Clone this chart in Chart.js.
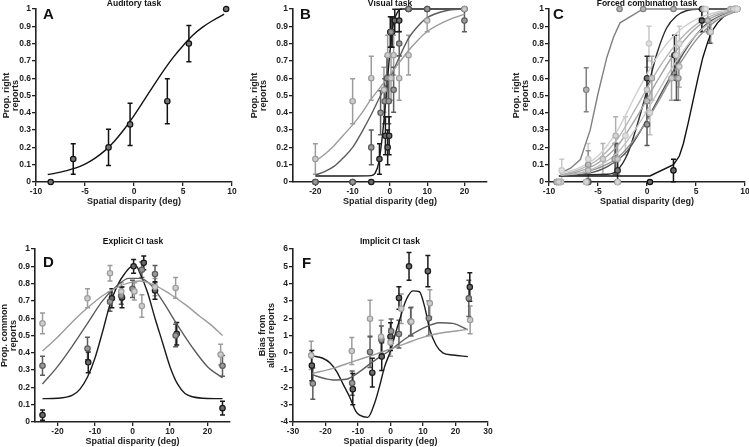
<!DOCTYPE html>
<html>
<head>
<meta charset="utf-8">
<script src="https://cdn.jsdelivr.net/npm/chart.js@4.4.1/dist/chart.umd.min.js"></script>
<style>
html, body { margin: 0; padding: 0; background: #fff; overflow: hidden; width: 749px; height: 447px; position: relative; }
canvas { position: absolute; }
</style>
</head>
<body>
<canvas id="cA" width="240" height="215" style="left:0;top:0"></canvas>
<canvas id="cB" width="252" height="215" style="left:240px;top:0"></canvas>
<canvas id="cC" width="265" height="215" style="left:490px;top:0"></canvas>
<canvas id="cD" width="240" height="235" style="left:0;top:220px"></canvas>
<canvas id="cF" width="258" height="235" style="left:240px;top:220px"></canvas>
<script>
// tick labels
const ticks01 = [0, 0.1, 0.2, 0.3, 0.4, 0.5, 0.6, 0.7, 0.8, 0.9, 1];
const ticksBias = [-4, -3, -2, -1, 0, 1, 2, 3, 4, 5, 6];
const xTicks10 = [-10, -5, 0, 5, 10];
const xTicks20 = [-20, -10, 0, 10, 20];
const xTicks30 = [-30, -20, -10, 0, 10, 20, 30];

// A: auditory task  [x, y, err]
const aPts = [[-8.5,0,0],[-6.2,0.133,0.088],[-2.6,0.2,0.105],[-0.4,0.333,0.122],[3.4,0.467,0.13],[5.6,0.8,0.105],[9.4,1,0]];
const aFit = [[-8.8,0.043],[-8,0.051],[-7,0.064],[-6,0.08],[-5,0.104],[-4,0.137],[-3,0.18],[-2,0.236],[-1,0.305],[0,0.384],[1,0.47],[2,0.557],[3,0.642],[4,0.72],[5,0.788],[6,0.848],[7,0.895],[8,0.932],[9.2,0.97]];

// B: visual task
const bBlackPts = [[-20,0,0],[-10,0,0],[-5,0,0],[-2.8,0.133,0.088],[-1.2,0.267,0.11],[-0.6,0.2,0.1],[-0.2,0.267,0.11],[0.1,0.867,0.088],[0.6,0.867,0.088],[1.3,0.933,0.065],[2.5,0.933,0.065],[5,1,0],[10,1,0],[20,1,0]];
const bMidPts = [[-20,0,0],[-10,0,0],[-5,0.2,0.1],[-2.5,0.4,0.127],[-1.4,0.467,0.13],[-0.8,0.6,0.127],[-0.3,0.467,0.13],[0.3,0.867,0.088],[1,0.533,0.13],[2.5,0.8,0.07],[5,1,0],[10,1,0],[20,0.933,0.065]];
const bLightPts = [[-20,0.133,0.088],[-10,0.467,0.13],[-5,0.6,0.127],[-1.6,0.533,0.13],[-0.6,0.733,0.115],[0.3,0.6,0.127],[1,0.733,0.115],[2.5,0.6,0.127],[5,0.733,0.115],[10,0.933,0.065],[20,1,0]];
const bBlackFit = [[-20,0.035],[-10,0.035],[-5,0.037],[-4,0.05],[-3,0.11],[-2,0.27],[-1,0.5],[0,0.75],[1,0.92],[2,0.98],[3,1],[5,1],[10,1],[20,1]];
const bMidFit = [[-20,0.04],[-17.5,0.06],[-15,0.09],[-12.5,0.14],[-10,0.2],[-7.5,0.29],[-5,0.39],[-2.5,0.5],[0,0.6],[2.5,0.72],[5,0.83],[7.5,0.9],[10,0.95],[15,0.99],[20,1]];
const bLightFit = [[-20,0.12],[-17.5,0.16],[-15,0.21],[-12.5,0.27],[-10,0.33],[-7.5,0.4],[-5,0.48],[-2.5,0.55],[0,0.62],[2.5,0.69],[5,0.76],[7.5,0.82],[10,0.87],[15,0.93],[20,0.97]];

// C: forced combination task
const cSteepPts = [[-9.2,0,0],[-6.2,0.533,0.127],[-2.8,1,0],[-0.4,1,0],[2.7,1,0],[5.8,1,0],[8.8,1,0]];
const cSteepFit = [[-8.9,0.05],[-7.8,0.08],[-6.8,0.13],[-5.8,0.3],[-5,0.51],[-4.1,0.72],[-3.4,0.84],[-2.75,0.92],[-0.4,1],[2.7,1],[5.6,1]];
const cBlackRPts = [[-9.2,0,0],[-6.2,0,0],[-3,0,0],[0.3,0,0],[2.7,0.067,0.065],[5.6,0.933,0.065],[9.2,1,0]];
const cBlackRFit = [[-9,0.035],[0.3,0.035],[2.7,0.1],[3.3,0.15],[3.7,0.22],[4.2,0.34],[4.7,0.47],[5.2,0.6],[5.7,0.72],[6.2,0.81],[6.6,0.87],[7.2,0.92],[7.8,0.955],[8.5,0.98],[9.2,0.99]];
const cBlackLPts = [[-8.8,0,0],[-6,0,0],[-3,0.067,0.065],[0,0.6,0.127],[2.8,0.733,0.115],[5.6,1,0],[9,1,0]];
const cBlackLFit = [[-8.8,0.04],[-4,0.045],[-3,0.07],[-2,0.16],[-1,0.33],[0,0.53],[1,0.74],[2,0.89],[3,0.96],[4,0.99],[5.5,1],[8.8,1]];
const cDarkPts = [[-9,0,0],[-6,0,0],[-3.2,0.133,0.09],[0,0.333,0.122],[3,0.6,0.127],[6.4,0.867,0.065],[9,1,0]];
const cDarkFit = [[-8.7,0.04],[-6,0.05],[-4,0.09],[-2,0.18],[0,0.36],[2,0.57],[4,0.77],[6,0.91],[8.7,0.99]];
const cL1Pts = [[-8.7,0.067,0.065],[-6,0.133,0.09],[-2.2,0.267,0.11],[0.2,0.8,0.1],[3.3,0.8,0.1],[6,1,0],[9.2,1,0]];
const cL1Fit = [[-8.8,0.05],[-7,0.08],[-5,0.15],[-3,0.3],[-1,0.52],[1,0.72],[3,0.86],[5,0.94],[7,0.98],[9,1]];
const cL2Pts = [[-9,0,0],[-4.5,0.133,0.09],[-3.2,0.267,0.11],[0,0.533,0.13],[3.3,0.667,0.12],[6.5,0.867,0.065],[8.8,1,0]];
const cL2Fit = [[-8.8,0.04],[-7,0.07],[-5,0.13],[-3,0.25],[-1,0.44],[1,0.64],[3,0.8],[5,0.91],[7,0.97],[9,0.995]];
const cL3Pts = [[-9.2,0,0],[-6,0.067,0.065],[-3,0.133,0.09],[0.5,0.6,0.127],[2.5,0.6,0.127],[5.8,1,0],[8.5,1,0]];
const cL3Fit = [[-8.8,0.04],[-7,0.06],[-5,0.11],[-3,0.21],[-1,0.38],[1,0.58],[3,0.76],[5,0.89],[7,0.96],[9,0.99]];
const cL4Pts = [[-8.8,0,0],[-6.2,0,0],[-3,0,0],[0.3,0.4,0.127],[3,0.733,0.115],[6.5,0.867,0.065],[9,1,0]];
const cL4Fit = [[-8.8,0.04],[-7,0.05],[-5,0.09],[-3,0.17],[-1,0.32],[1,0.51],[3,0.7],[5,0.85],[7,0.94],[9,0.99]];
const cL5Pts = [[-9,0,0],[-6,0.1,0.08],[-3.3,0.133,0.09],[0,0.467,0.13],[3.2,0.6,0.127],[6.2,0.933,0.065],[9.2,1,0]];
const cL5Fit = [[-8.8,0.04],[-7,0.05],[-5,0.08],[-3,0.14],[-1,0.27],[1,0.45],[3,0.65],[5,0.82],[7,0.93],[9,0.985]];

// D: explicit CI task
const dLightPts = [[-24,0.57,0.06],[-12,0.715,0.055],[-6,0.86,0.045],[-3,0.755,0.05],[0.5,0.755,0.05],[2.5,0.67,0.065],[6,0.78,0.05],[11.5,0.775,0.06],[23.5,0.39,0.06]];
const dMidPts = [[-24,0.325,0.055],[-12,0.425,0.065],[-6,0.695,0.055],[-3,0.73,0.05],[0,0.77,0.05],[2.5,0.88,0.045],[6,0.855,0.05],[11.5,0.5,0.065],[24,0.325,0.06]];
const dBlackPts = [[-24,0.04,0.03],[-11.8,0.345,0.06],[-5.5,0.715,0.055],[-2.8,0.72,0.06],[0.3,0.9,0.04],[3,0.92,0.04],[6,0.76,0.05],[11.8,0.51,0.065],[24,0.08,0.04]];
const dLightFit = [[-24,0.41],[-20,0.49],[-16,0.58],[-12,0.66],[-8,0.73],[-4,0.78],[0,0.81],[2,0.815],[6,0.79],[10,0.74],[14,0.68],[18,0.61],[21,0.56],[24,0.5]];
const dMidFit = [[-24,0.22],[-20,0.32],[-16,0.44],[-12,0.57],[-8,0.7],[-4,0.79],[-1,0.83],[2,0.83],[5,0.79],[8,0.7],[12,0.56],[16,0.43],[20,0.32],[24,0.255]];
const dBlackFit = [[-24,0.135],[-20,0.137],[-16,0.155],[-14,0.19],[-12,0.26],[-10,0.37],[-8,0.52],[-6,0.68],[-4,0.79],[-2,0.86],[0,0.9],[1,0.9],[2,0.86],[4,0.75],[6,0.6],[8,0.46],[10,0.32],[12,0.22],[14,0.165],[16,0.146],[20,0.136],[24,0.135]];

// F: implicit CI task
const fBlackPts = [[-24.2,-0.74,0.87],[-11.6,-2.1,0.9],[-5.6,-1.15,0.83],[-2.7,-0.22,0.8],[0,0.93,0.8],[2.6,3.17,0.65],[5.7,5,0.8],[11.5,4.72,0.9],[24.4,3.8,0.82]];
const fMidPts = [[-23.9,-1.78,0.9],[-11.8,-1.75,0.7],[-6.3,0.05,0.9],[-2.8,0.75,0.8],[0.2,1.25,0.7],[2.6,1.08,0.8],[6.2,1.8,0.8],[11.8,2,1],[24.1,3.15,1.05]];
const fLightPts = [[-24.4,-0.15,0.82],[-11.9,0.1,0.78],[-6.3,1.97,1.07],[-2.9,0.93,0.95],[0,0.6,0.8],[3.3,2.55,0.85],[6.4,1.8,0.85],[12.1,2.86,0.78],[24.5,1.9,0.8]];
const fBlackFit = [[-24,-0.18],[-21,-0.3],[-18.5,-0.6],[-16.5,-1.1],[-14.7,-1.77],[-12.6,-2.54],[-10.6,-3.4],[-9.5,-3.6],[-7,-3.73],[-4.9,-2.92],[-3.4,-1.96],[-1.8,-0.8],[0,0.1],[1.5,1.1],[2.8,1.9],[4.8,3.05],[6.9,3.58],[8.9,3.53],[10.5,2.67],[12,1.4],[14,0.45],[16.1,0],[19.2,-0.13],[23.8,-0.22]];
const fMidFit = [[-24,-1.28],[-20,-1.5],[-17.7,-1.57],[-13.6,-1.53],[-9.5,-1.09],[-5.4,-0.51],[0,0.16],[4.8,0.84],[9.9,1.41],[15.1,1.74],[19.2,1.7],[23.8,1.32]];
const fLightFit = [[-24,-1.19],[-17.7,-0.9],[-11.6,-0.51],[-5.4,-0.13],[0,0.22],[4.8,0.55],[9.9,0.89],[15.1,1.13],[20.2,1.26],[23.8,1.36]];

const BLACK = '#1a1a1a', MID = '#5c5c5c', LIGHT = '#9c9c9c';

Chart.defaults.font.family = '"Liberation Sans", Arial, sans-serif';
Chart.defaults.color = '#222';

// error bars drawn under the markers
const errorBars = {
  id: 'errorBars',
  beforeDatasetsDraw(chart) {
    const {ctx, scales: {x, y}} = chart;
    chart.data.datasets.forEach(ds => {
      if (!ds.errs) return;
      ctx.save();
      ctx.strokeStyle = ds.pointBorderColor;
      ctx.lineWidth = 1.5;
      ds.data.forEach((p, j) => {
        const e = ds.errs[j];
        if (!e) return;
        const px = x.getPixelForValue(p.x);
        const y1 = y.getPixelForValue(p.y - e), y2 = y.getPixelForValue(p.y + e);
        ctx.beginPath();
        ctx.moveTo(px, y1); ctx.lineTo(px, y2);
        ctx.moveTo(px - 2.5, y1); ctx.lineTo(px + 2.5, y1);
        ctx.moveTo(px - 2.5, y2); ctx.lineTo(px + 2.5, y2);
        ctx.stroke();
      });
      ctx.restore();
    });
  }
};

// panel title and letter
const panelText = {
  id: 'panelText',
  afterDraw(chart, args, o) {
    const ctx = chart.ctx;
    ctx.save();
    ctx.fillStyle = '#111';
    ctx.font = 'bold 8.5px "Liberation Sans", Arial, sans-serif';
    ctx.textAlign = 'center';
    ctx.textBaseline = 'middle';
    ctx.fillText(o.title, o.tx, o.ty);
    ctx.font = 'bold 15px "Liberation Sans", Arial, sans-serif';
    ctx.textAlign = 'left';
    ctx.textBaseline = 'alphabetic';
    ctx.fillText(o.letter, o.lx, o.ly);
    ctx.restore();
  }
};

const toXY = arr => arr.map(v => ({x: v[0], y: v[1]}));

function fit(data, color, smooth) {
  return {type: 'line', data: toXY(data), borderColor: color, borderWidth: 1.4, pointRadius: 0,
    cubicInterpolationMode: smooth ? 'monotone' : 'default', tension: 0, clip: false, order: 2};
}
function dots(data, color, fillc) {
  return {type: 'scatter', data: toXY(data), errs: data.map(v => v[2]), pointRadius: 2.7,
    pointBorderWidth: 1.2, pointBorderColor: color, pointBackgroundColor: fillc, clip: false, order: 1};
}

function axis(min, max, tickVals, size, isX, title, titlePad) {
  return {
    type: 'linear', min: min, max: max,
    afterBuildTicks: s => { s.ticks = tickVals.map(v => ({value: v})); },
    afterFit: s => { if (isX) s.height = size; else s.width = size; },
    grid: {drawOnChartArea: false, tickLength: 4, color: '#222', lineWidth: 1.3},
    border: {color: '#222', width: 1.6},
    ticks: {font: {size: 8.5, weight: 'bold'}, padding: 1, color: '#222', maxRotation: 0, autoSkip: false,
      callback: v => String(v)},
    title: isX
      ? {display: true, text: title, color: '#222', font: {size: 9, weight: 'bold'}, padding: {top: 0, bottom: 8}}
      : {display: true, text: title, color: '#222', font: {size: 9, weight: 'bold', lineHeight: 1}, padding: {top: titlePad, bottom: 0}}
  };
}

function makeChart(id, p) {
  return new Chart(document.getElementById(id), {
    type: 'scatter',
    data: {datasets: p.datasets},
    options: {
      responsive: false,
      animation: false,
      layout: {padding: p.pad},
      plugins: {legend: {display: false}, tooltip: {enabled: false}, panelText: p.text},
      scales: {
        x: axis(p.xMin, p.xMax, p.xTicks, p.xH, true, 'Spatial disparity (deg)'),
        y: axis(p.yMin, p.yMax, p.yTicks, p.yW, false, p.yTitle, p.yTitlePad)
      }
    },
    plugins: [errorBars, panelText]
  });
}

makeChart('cA', {
  datasets: [fit(aFit, '#111', true), dots(aPts, '#111', '#777')],
  pad: {left: 0, top: 9, right: 8, bottom: 0},
  xMin: -10, xMax: 10, xTicks: xTicks10, xH: 33,
  yMin: 0, yMax: 1, yTicks: ticks01, yW: 36,
  yTitle: ['Prop. right', 'reports'], yTitlePad: 2.5,
  text: {title: 'Auditory task', tx: 134, ty: 4, letter: 'A', lx: 43, ly: 18.5}
});

makeChart('cB', {
  datasets: [
    fit(bLightFit, LIGHT, true), fit(bMidFit, MID, true), fit(bBlackFit, BLACK, true),
    dots(bLightPts, LIGHT, '#cdcdcd'), dots(bMidPts, MID, '#999'), dots(bBlackPts, BLACK, '#6a6a6a')
  ],
  pad: {left: 0, top: 9, right: 3, bottom: 0},
  xMin: -26, xMax: 26, xTicks: xTicks20, xH: 33,
  yMin: 0, yMax: 1, yTicks: ticks01, yW: 53,
  yTitle: ['Prop. right', 'reports'], yTitlePad: 10.5,
  text: {title: 'Visual task', tx: 150, ty: 4, letter: 'B', lx: 60, ly: 18.5}
});

makeChart('cC', {
  datasets: [
    fit(cL1Fit, '#cfcfcf', true), fit(cL2Fit, '#b5b5b5', true), fit(cL3Fit, '#a3a3a3', true),
    fit(cL4Fit, '#c2c2c2', true), fit(cL5Fit, '#929292', true),
    fit(cDarkFit, '#555', true), fit(cSteepFit, '#808080', false),
    fit(cBlackLFit, '#2a2a2a', true), fit(cBlackRFit, '#111', false),
    dots(cL1Pts, '#c8c8c8', '#e0e0e0'), dots(cL2Pts, '#b0b0b0', '#d4d4d4'), dots(cL3Pts, '#a0a0a0', '#cacaca'),
    dots(cL4Pts, '#bdbdbd', '#d8d8d8'), dots(cL5Pts, '#909090', '#bebebe'),
    dots(cDarkPts, '#555', '#999'), dots(cSteepPts, '#808080', '#b4b4b4'),
    dots(cBlackLPts, '#2a2a2a', '#777'), dots(cBlackRPts, '#111', '#6a6a6a')
  ],
  pad: {left: 0, top: 9, right: 10, bottom: 0},
  xMin: -10, xMax: 10, xTicks: xTicks10, xH: 33,
  yMin: 0, yMax: 1, yTicks: ticks01, yW: 59,
  yTitle: ['Prop. right', 'reports'], yTitlePad: 22,
  text: {title: 'Forced combination task', tx: 157, ty: 4, letter: 'C', lx: 63, ly: 18.5}
});

makeChart('cD', {
  datasets: [
    fit(dLightFit, LIGHT, true), fit(dMidFit, MID, true), fit(dBlackFit, BLACK, true),
    dots(dLightPts, LIGHT, '#cdcdcd'), dots(dMidPts, MID, '#999'), dots(dBlackPts, BLACK, '#6a6a6a')
  ],
  pad: {left: 0, top: 29, right: 10, bottom: 0},
  xMin: -26, xMax: 26, xTicks: xTicks20, xH: 33,
  yMin: 0, yMax: 1, yTicks: ticks01, yW: 35,
  yTitle: ['Prop. common', 'reports'], yTitlePad: 0,
  text: {title: 'Explicit CI task', tx: 133, ty: 22, letter: 'D', lx: 43, ly: 47}
});

makeChart('cF', {
  datasets: [
    fit(fLightFit, LIGHT, true), fit(fMidFit, MID, true), fit(fBlackFit, BLACK, true),
    dots(fLightPts, LIGHT, '#cdcdcd'), dots(fMidPts, MID, '#999'), dots(fBlackPts, BLACK, '#6a6a6a')
  ],
  pad: {left: 0, top: 29, right: 10, bottom: 0},
  xMin: -30, xMax: 30, xTicks: xTicks30, xH: 33,
  yMin: -4, yMax: 6, yTicks: ticksBias, yW: 53,
  yTitle: ['Bias from', 'aligned reports'], yTitlePad: 18.5,
  text: {title: 'Implicit CI task', tx: 150, ty: 22, letter: 'F', lx: 62, ly: 48}
});
</script>
</body>
</html>
